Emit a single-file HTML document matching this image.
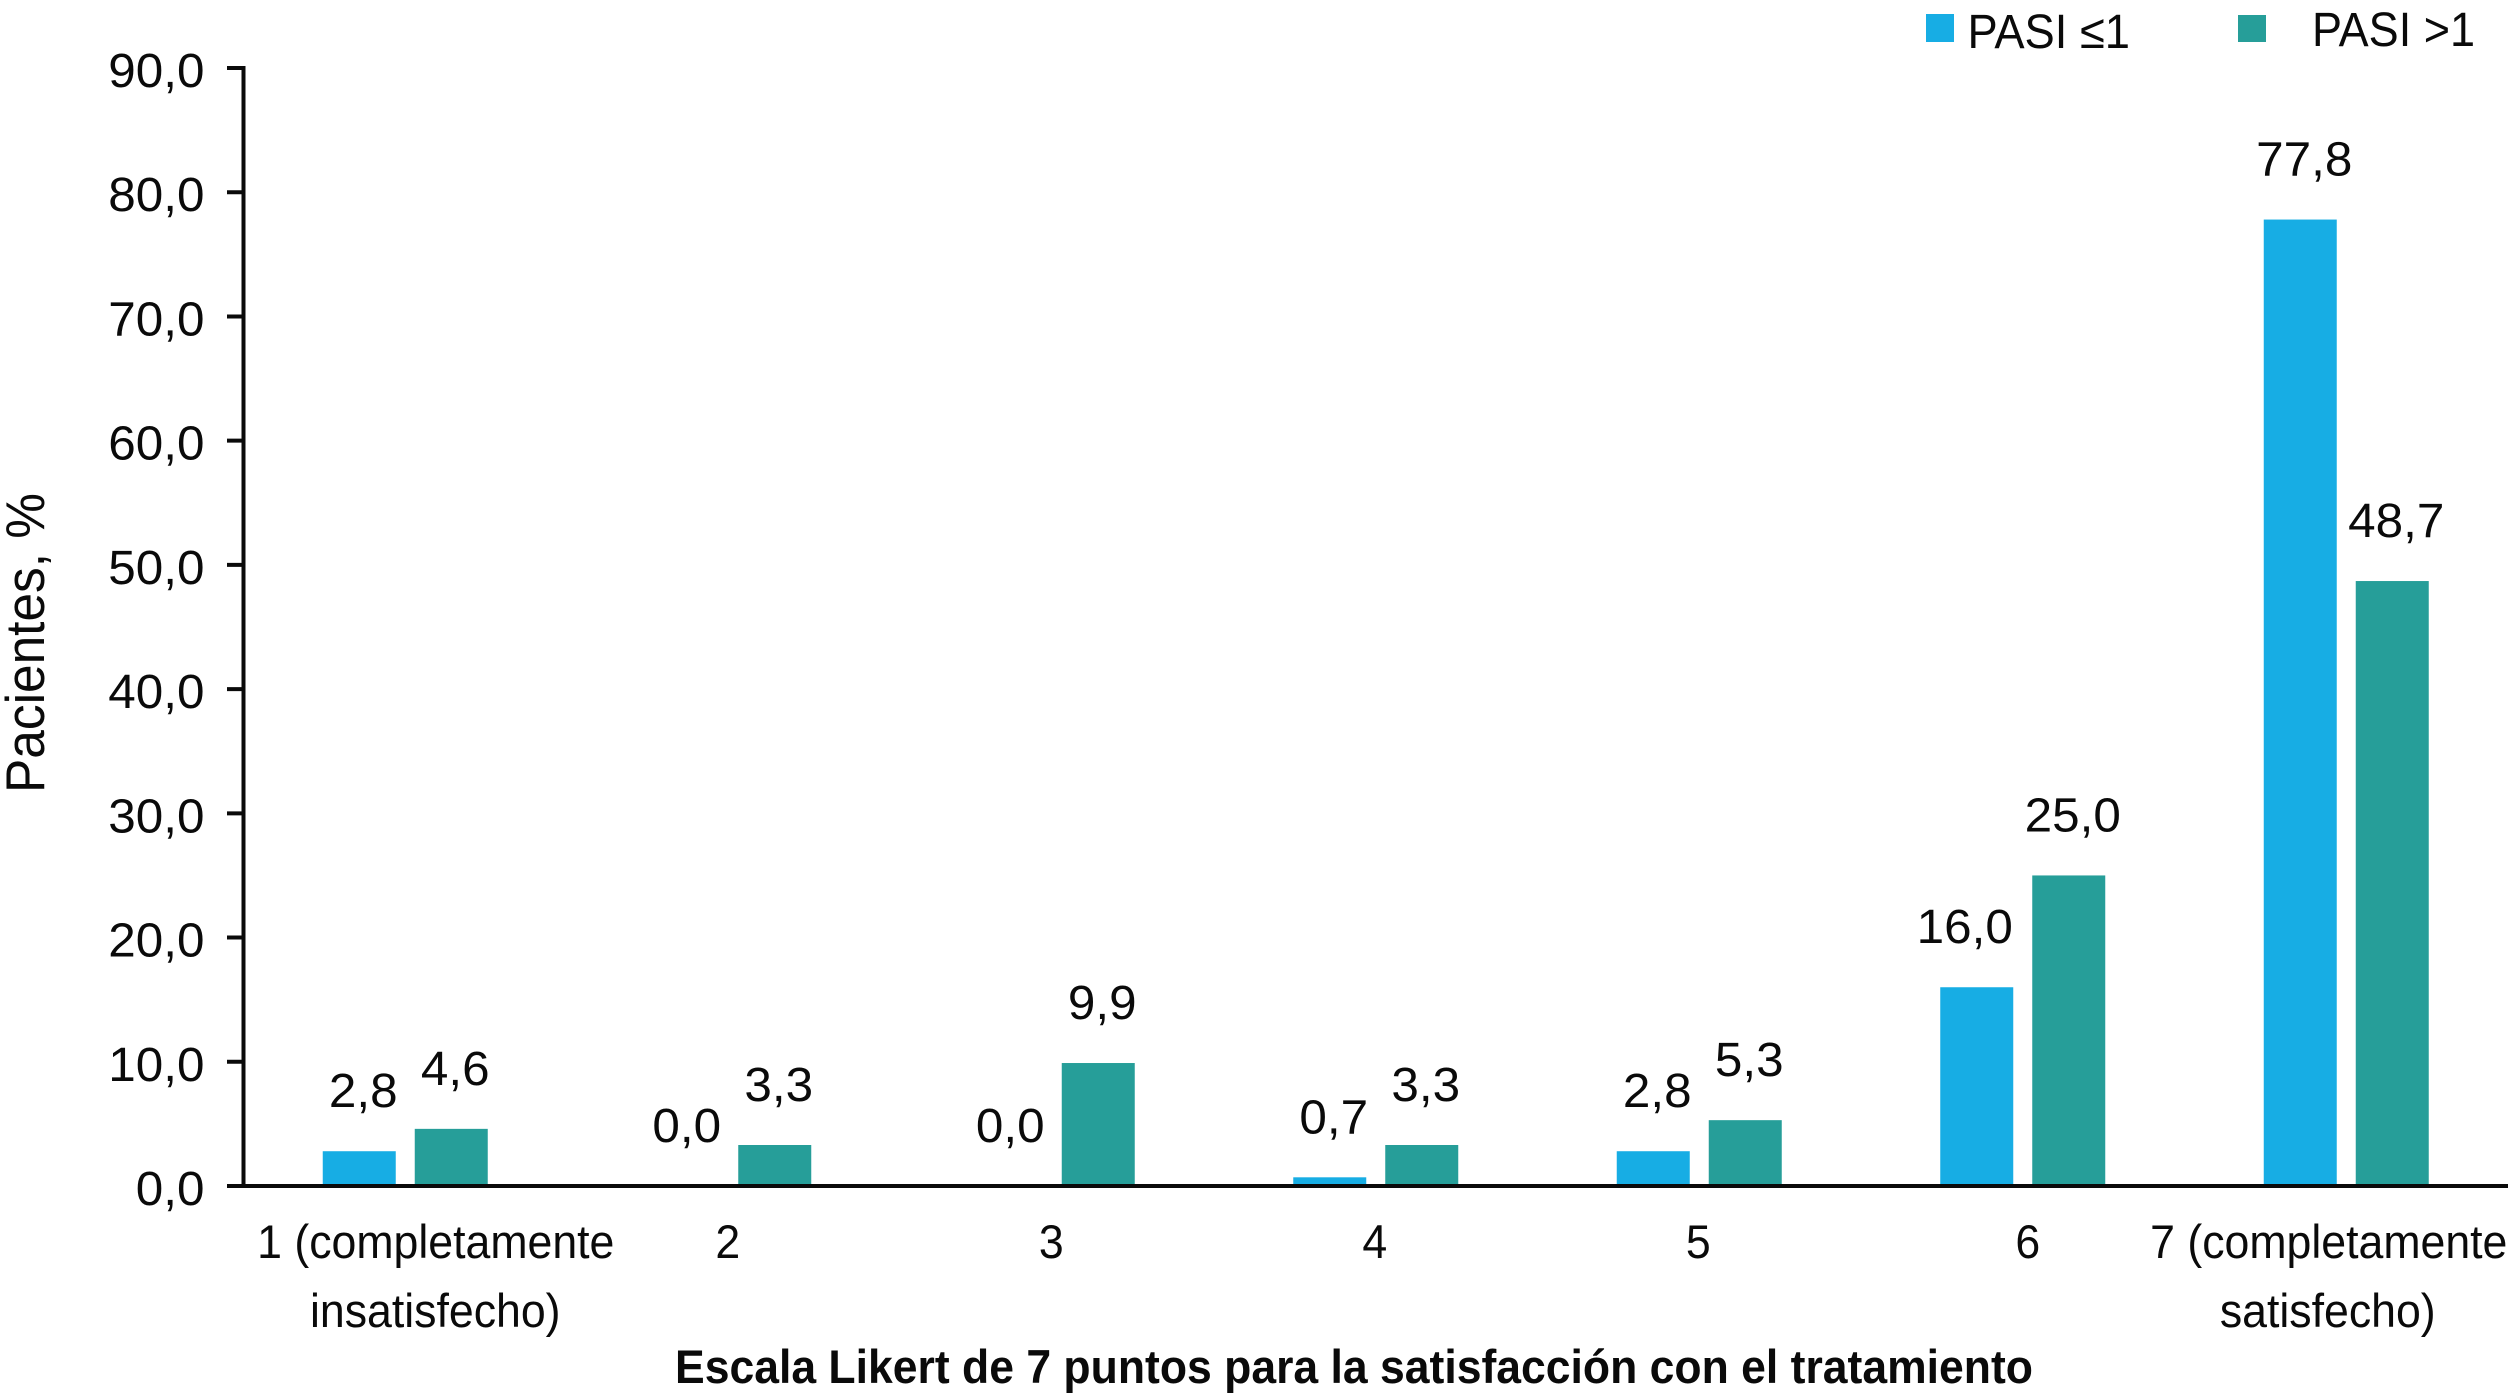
<!DOCTYPE html>
<html lang="es">
<head>
<meta charset="utf-8">
<title>Escala Likert de satisfacción con el tratamiento</title>
<style>
html,body{margin:0;padding:0;background:#fff;}
svg{display:block;}
text{font-family:"Liberation Sans",Arial,sans-serif;fill:#0a0a0a;}
</style>
</head>
<body>
<svg id="chart" xmlns="http://www.w3.org/2000/svg" width="2516" height="1396" viewBox="0 0 2516 1396">
  <rect x="0" y="0" width="2516" height="1396" fill="#fff"/>
  <g id="plot"></g>
  <g>
    <g>
      <rect x="1926" y="14" width="28" height="28" fill="#17ade4"/>
      <text x="1967.5" y="48" font-size="48" textLength="162.5" lengthAdjust="spacingAndGlyphs">PASI ≤1</text>
    </g>
    <g>
      <rect x="2238" y="15" width="28" height="27" fill="#269e99"/>
      <text x="2312" y="46" font-size="48" textLength="163" lengthAdjust="spacingAndGlyphs">PASI &gt;1</text>
    </g>
  </g>
  <text transform="translate(44,643) rotate(-90)" text-anchor="middle" font-size="55" textLength="300" lengthAdjust="spacingAndGlyphs">Pacientes, %</text>
  <text x="675" y="1383" font-size="47" font-weight="700" textLength="1358" lengthAdjust="spacingAndGlyphs">Escala Likert de 7 puntos para la satisfacción con el tratamiento</text>
</svg>
<script>
const categories = [
  ["1 (completamente", "insatisfecho)"],
  ["2"], ["3"], ["4"], ["5"], ["6"],
  ["7 (completamente", "satisfecho)"]
];
const pasiLe1 = [2.8, 0.0, 0.0, 0.7, 2.8, 16.0, 77.8];
const pasiGt1 = [4.6, 3.3, 9.9, 3.3, 5.3, 25.0, 48.7];
const yTicks = [0, 10, 20, 30, 40, 50, 60, 70, 80, 90];

const SVG_NS = "http://www.w3.org/2000/svg";
const plot = document.getElementById("plot");
const axisLeft = 243.5, axisRight = 2508, axisBottom = 1186, axisTop = 68;
const yMax = 90;
const barWidth = 73, barOffset = 46;
const blue = "#17ade4", teal = "#269e99";

function yScale(v) {
  return axisBottom - (v / yMax) * (axisBottom - axisTop);
}
function xBand(i) {
  return axisLeft + (axisRight - axisLeft) * (i + 0.5) / categories.length;
}
function categoryNudge(i, line) {
  if (i === 0) return line === 0 ? 30.5 : 30;
  if (i === categories.length - 1) return line === 0 ? -17.5 : -18.5;
  if (i === 5) return 5;
  return -1;
}
function valueNudge(seriesName, i) {
  if (seriesName === "pasi-le-1" && i === 5) return -12;
  return 4;
}
function fmt(v) {
  return v.toFixed(1).replace(".", ",");
}
function make(tag, attrs, content) {
  const el = document.createElementNS(SVG_NS, tag);
  for (const k in attrs) el.setAttribute(k, attrs[k]);
  if (content !== undefined) el.textContent = content;
  plot.appendChild(el);
  return el;
}
function scaledText(x, y, size, sx, anchor, content) {
  return make("text", {
    transform: "translate(" + x + "," + y + ") scale(" + sx + ",1)",
    "font-size": size,
    "text-anchor": anchor
  }, content);
}

// bars
function drawSeries(values, color, offset, seriesName) {
  values.forEach(function (v, i) {
    const cx = xBand(i) + offset;
    const top = yScale(v);
    const bar = make("rect", {
      x: cx - barWidth / 2,
      y: top,
      width: barWidth,
      height: axisBottom - top,
      fill: color
    });
    
    
    const label = scaledText(cx + valueNudge(seriesName, i), top - 44, 48, 1.03, "middle", fmt(v));
    
    
  });
}
drawSeries(pasiLe1, blue, -barOffset, "pasi-le-1");
drawSeries(pasiGt1, teal, barOffset, "pasi-gt-1");

// y axis
const yAxisLine = make("line", { x1: axisLeft, x2: axisLeft, y1: axisTop - 2, y2: axisBottom + 2, stroke: "#0a0a0a", "stroke-width": 4 });


yTicks.forEach(function (t) {
  const y = yScale(t);
  const tick = make("line", { x1: 227, x2: axisLeft, y1: y, y2: y, stroke: "#0a0a0a", "stroke-width": 4 });
  
  
  const label = scaledText(204.5, y + 19, 48, 1.03, "end", fmt(t));
  
  
});

// x axis
const xAxisLine = make("line", { x1: 227, x2: axisRight, y1: axisBottom, y2: axisBottom, stroke: "#0a0a0a", "stroke-width": 4 });


categories.forEach(function (lines, i) {
  lines.forEach(function (line, j) {
    const label = scaledText(xBand(i) + categoryNudge(i, j), 1258 + j * 69, 47, 0.95, "middle", line);
    
    
  });
});
</script>
</body>
</html>
